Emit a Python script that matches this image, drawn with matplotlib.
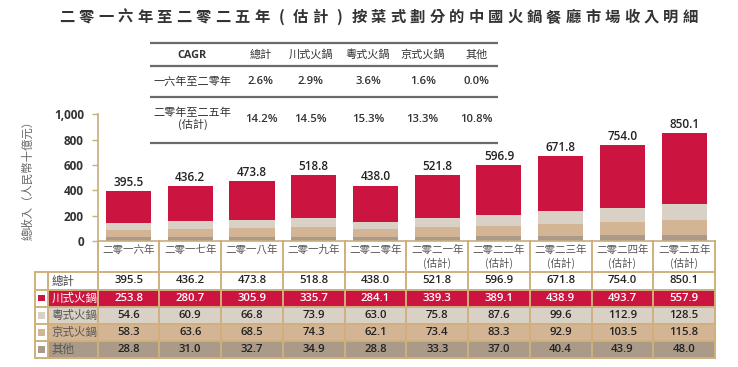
import matplotlib
matplotlib.use('Agg')
import matplotlib.pyplot as plt
from matplotlib.patches import Rectangle
import numpy as np

plt.rcParams['font.family'] = ['Noto Sans CJK TC', 'DejaVu Sans']

# ---------------- data ----------------
title = "二零一六年至二零二五年(估計)按菜式劃分的中國火鍋餐廳市場收入明細"
years = ["二零一六年", "二零一七年", "二零一八年", "二零一九年", "二零二零年",
         "二零二一年\n(估計)", "二零二二年\n(估計)", "二零二三年\n(估計)",
         "二零二四年\n(估計)", "二零二五年\n(估計)"]
totals = [395.5, 436.2, 473.8, 518.8, 438.0, 521.8, 596.9, 671.8, 754.0, 850.1]
sichuan = [253.8, 280.7, 305.9, 335.7, 284.1, 339.3, 389.1, 438.9, 493.7, 557.9]
cantonese = [54.6, 60.9, 66.8, 73.9, 63.0, 75.8, 87.6, 99.6, 112.9, 128.5]
beijing = [58.3, 63.6, 68.5, 74.3, 62.1, 73.4, 83.3, 92.9, 103.5, 115.8]
others = [28.8, 31.0, 32.7, 34.9, 28.8, 33.3, 37.0, 40.4, 43.9, 48.0]
total_label = "總計"
series_names = ["川式火鍋", "粵式火鍋", "京式火鍋", "其他"]
ylabel = "總收入（人民幣十億元）"
yticks = [0, 200, 400, 600, 800, 1000]
ytick_labels = ["0", "200", "400", "600", "800", "1,000"]
cagr_header = "CAGR"
cagr_cols = ["總計", "川式火鍋", "粵式火鍋", "京式火鍋", "其他"]
cagr_periods = ["一六年至二零年", "二零年至二五年\n(估計)"]
cagr_1620 = ["2.6%", "2.9%", "3.6%", "1.6%", "0.0%"]
cagr_2025 = ["14.2%", "14.5%", "15.3%", "13.3%", "10.8%"]

# ---------------- style ----------------
RED = '#cc1440'
LIGHT = '#d9d1c6'
TAN = '#d3b596'
TAUPE = '#aa9a87'
BORDER = '#cfb07c'
AXIS = '#c8ad7e'
NUMFONT = ['Open Sans', 'DejaVu Sans']

W, H = 738, 367
fig = plt.figure(figsize=(W / 100, H / 100), dpi=100)

# overlay axes in pixel coordinates
ov = fig.add_axes([0, 0, 1, 1])
ov.set_xlim(0, W)
ov.set_ylim(H, 0)
ov.axis('off')

# bar axes geometry (pixels)
x_left, x_right = 97.7, 715.0
y_zero, y_top = 241.0, 114.3
n = len(years)
colw = (x_right - x_left) / n

ax = fig.add_axes([x_left / W, 1 - y_zero / H, (x_right - x_left) / W, (y_zero - y_top) / H])
ax.set_facecolor('none')
ax.set_xlim(-0.5, n - 0.5)
ax.set_ylim(0, 1000)

x = np.arange(n)
bw = 0.73
stack = [(others, TAUPE), (beijing, TAN), (cantonese, LIGHT), (sichuan, RED)]
bottom = np.zeros(n)
for vals, col in stack:
    ax.bar(x, vals, bw, bottom=bottom, color=col, linewidth=0, zorder=2)
    bottom += np.array(vals)

for xi, t in zip(x, totals):
    ax.annotate(f"{t:.1f}", (xi, t), xytext=(0, 1.5), textcoords='offset points',
                ha='center', va='bottom', fontsize=8.5, color='#222222',
                family=NUMFONT, fontweight='semibold', annotation_clip=False)

for s in ['top', 'right']:
    ax.spines[s].set_visible(False)
ax.spines['left'].set_color(AXIS)
ax.spines['bottom'].set_color(AXIS)
ax.spines['left'].set_linewidth(1.2)
ax.spines['bottom'].set_linewidth(1.2)
ax.set_xticks([])
ax.set_yticks(yticks)
ax.set_yticklabels(ytick_labels, family=NUMFONT, fontweight='bold', fontsize=8.5, color='#333333')
ax.tick_params(axis='y', direction='out', length=4, width=1, color=AXIS, pad=6)
ax.set_ylabel(ylabel, fontsize=8.2, color='#666666', labelpad=15)

# title (letter-spaced)
chars = list(title)
t_start, t_end = 67, 690
step = (t_end - t_start) / (len(chars) - 1)
for i, ch in enumerate(chars):
    ov.text(t_start + i * step, 17, ch, ha='center', va='center', fontsize=11,
            fontweight='bold', color='#333333')

# ---------------- CAGR table ----------------
cx0, cx1 = 150, 498
for yy in [43.3, 65.7, 97.3, 142.7]:
    ov.plot([cx0, cx1], [yy, yy], color='#6a6a6a', lw=1.6, solid_capstyle='butt')
col_x = [261, 310.7, 368, 422.7, 476.7]
ov.text(192, 55, cagr_header, ha='center', va='center', fontsize=7.8,
        fontweight='bold', family=NUMFONT, color='#333333')
for cxx, name in zip(col_x, cagr_cols):
    ov.text(cxx, 55, name, ha='center', va='center', fontsize=8, color='#333333')
ov.text(192.7, 81.7, cagr_periods[0], ha='center', va='center', fontsize=8, color='#333333')
ov.text(192.7, 118.5, cagr_periods[1], ha='center', va='center', fontsize=8,
        color='#333333', linespacing=1.1)
for cxx, v in zip(col_x, cagr_1620):
    ov.text(cxx, 81.7, v, ha='center', va='center', fontsize=8.2, family=NUMFONT,
            fontweight='semibold', color='#333333')
for cxx, v in zip(col_x, cagr_2025):
    ov.text(cxx, 119, v, ha='center', va='center', fontsize=8.2, family=NUMFONT,
            fontweight='semibold', color='#333333')

# ---------------- category labels ----------------
for i, lab in enumerate(years):
    xc = x_left + (i + 0.5) * colw
    ov.text(xc, 244.5, lab, ha='center', va='top', fontsize=7.6, color='#555555',
            linespacing=1.25)

# ---------------- data table ----------------
tab_left, leg_right = 35.0, 48.3
row_y = [272.3, 289.5, 306.7, 324.0, 341.0, 358.3]
row_cols = [RED, LIGHT, TAN, TAUPE]
row_vals = [sichuan, cantonese, beijing, others]
row_txt = ['white', '#222222', '#222222', '#222222']
lab_txt = ['white', '#555555', '#555555', '#555555']

for r in range(4):
    y0, y1 = row_y[r + 1], row_y[r + 2]
    ov.add_patch(Rectangle((leg_right, y0), x_right - leg_right, y1 - y0,
                           facecolor=row_cols[r], edgecolor='none', zorder=1))
    ym = (y0 + y1) / 2
    ov.add_patch(Rectangle((41.6 - 3.2, ym - 3.2), 6.4, 6.4, facecolor=row_cols[r],
                           edgecolor='none', zorder=3))
    ov.text(51.5, ym, series_names[r], ha='left', va='center', fontsize=8.3,
            color=lab_txt[r], zorder=4)
    for i, v in enumerate(row_vals[r]):
        xc = x_left + (i + 0.5) * colw
        ov.text(xc, ym, f"{v:.1f}", ha='center', va='center', fontsize=8.2,
                family=NUMFONT, fontweight='semibold', color=row_txt[r], zorder=4)

# total row
ym = (row_y[0] + row_y[1]) / 2
ov.text(51.5, ym, total_label, ha='left', va='center', fontsize=8.3, color='#444444', zorder=4)
for i, v in enumerate(totals):
    xc = x_left + (i + 0.5) * colw
    ov.text(xc, ym, f"{v:.1f}", ha='center', va='center', fontsize=8.2,
            family=NUMFONT, fontweight='semibold', color='#222222', zorder=4)

# grid lines
for yy in row_y:
    ov.plot([tab_left, x_right], [yy, yy], color=BORDER, lw=1.4, zorder=5,
            solid_capstyle='butt')
for xx in [tab_left, leg_right]:
    ov.plot([xx, xx], [row_y[0], row_y[-1]], color=BORDER, lw=1.4, zorder=5)
for i in range(n + 1):
    xx = x_left + i * colw
    ov.plot([xx, xx], [y_zero, row_y[-1]], color=BORDER, lw=1.4, zorder=5)

fig.savefig('out.png', dpi=100)
